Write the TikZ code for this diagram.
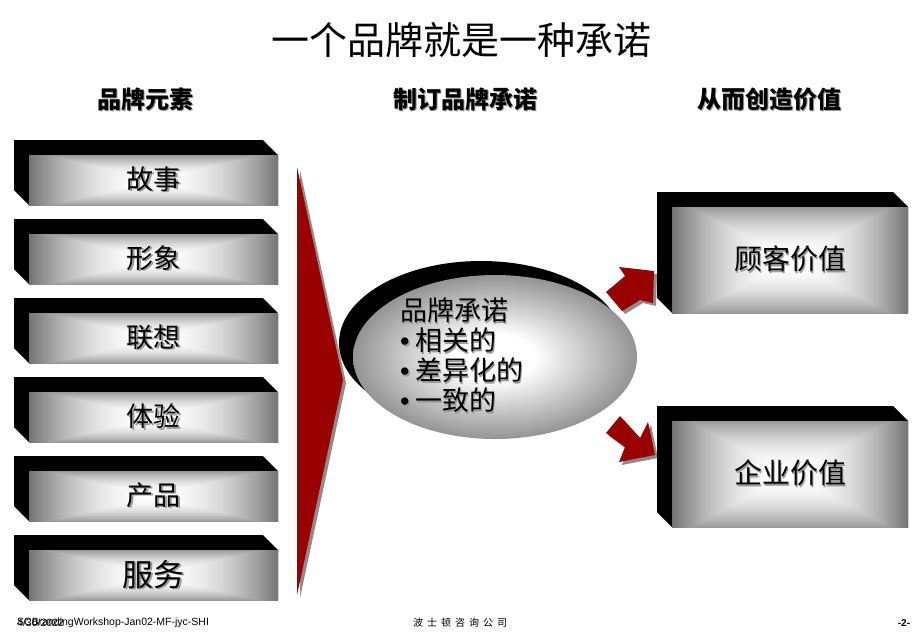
\documentclass[tikz,border=0pt]{standalone}
\usepackage{fontspec}
\setmainfont{Liberation Sans}
\newfontfamily\cjk{Noto Sans CJK SC}
\usetikzlibrary{shapes.geometric}
\definecolor{brandred}{RGB}{153,0,0}
\pgfdeclarefunctionalshading{boxshade}{\pgfpoint{-50bp}{-50bp}}{\pgfpoint{50bp}{50bp}}{}{abs 0.85 mul exch abs 2 copy lt {exch} if pop 25 div dup 1 gt {pop 1} if dup mul 0.55 mul 1 exch sub dup dup}
\pgfdeclareradialshading{ellshade}{\pgfpoint{0bp}{0bp}}{color(0bp)=(white); color(7bp)=(white); color(25bp)=(black!42); color(50bp)=(black!42)}
\newcommand\shtx[1]{\leavevmode\rlap{\kern1.5pt\raisebox{-1.5pt}{\color{black!40}#1}}#1}
\newcommand\bul{\makebox[15pt][l]{\rmfamily •}}
\tikzset{
  frontface/.style={shading=boxshade, inner sep=0pt, font=\cjk},
  header/.style={font=\cjk\bfseries\fontsize{24}{24}\selectfont, inner sep=0pt},
  backface/.style={fill=black},
  redshape/.style={fill=brandred},
  redshadow/.style={fill=black!45},
}
\begin{document}
\begin{tikzpicture}[x=1pt,y=-1pt]
\useasboundingbox[fill=white] (0,0) rectangle (920,638);

% title and headers
\node[font=\cjk\fontsize{38}{38}\selectfont, inner sep=0pt] (title) at (461,40) {一个品牌就是一种承诺};
\node[header] (h1) at (145,100) {\shtx{品牌元素}};
\node[header] (h2) at (465,100) {\shtx{制订品牌承诺}};
\node[header] (h3) at (769,100) {\shtx{从而创造价值}};

% left boxes
\foreach \t/\lab/\fs [count=\i] in {155/故事/27, 234/形象/27, 313/联想/27, 392/体验/27, 471/产品/27, 550/服务/31} {
  \fill[backface] (14,{\t-15}) -- (263,{\t-15}) -- (278,\t) -- (278,{\t+50}) -- (29,{\t+50}) -- (14,{\t+35}) -- cycle;
  \node[frontface, minimum width=249pt, minimum height=50pt] (b\i) at (153.5,{\t+25}) {\fontsize{\fs}{\fs}\selectfont\shtx{\lab}};
}

% red triangle
\fill[redshadow] (300,170) -- (346,383) -- (300,598) -- cycle;
\fill[redshape] (297,167) -- (343,380) -- (297,595) -- cycle;

% ellipse
\node[ellipse, backface, minimum width=284pt, minimum height=164pt, inner sep=0pt] (promback) at (481,343) {};
\node[ellipse, shading=ellshade, minimum width=284pt, minimum height=164pt, inner sep=0pt] (prom) at (495,357) {};
\node[anchor=north west, align=left, inner sep=0pt, font=\cjk\fontsize{27}{30}\selectfont] (promtext) at (400,298) {%
\shtx{品牌承诺}\\
\shtx{\bul 相关的}\\
\shtx{\bul 差异化的}\\
\shtx{\bul 一致的}};

% arrows
\fill[redshadow, shift={(3,3)}] (606,292) -- (625,276) -- (619,267) -- (654,271) -- (653,303) -- (640,300) -- (622,311) -- cycle;
\fill[redshape] (606,292) -- (625,276) -- (619,267) -- (654,271) -- (653,303) -- (640,300) -- (622,311) -- cycle;
\fill[redshadow, shift={(3,3)}] (620,416) -- (640,438) -- (648,422) -- (655,455) -- (619,462) -- (625,447) -- (606,433) -- cycle;
\fill[redshape] (620,416) -- (640,438) -- (648,422) -- (655,455) -- (619,462) -- (625,447) -- (606,433) -- cycle;

% right boxes
\fill[backface] (657,192) -- (893,192) -- (908,207) -- (908,313) -- (672,313) -- (657,298) -- cycle;
\node[frontface, minimum width=236pt, minimum height=106pt] (cv) at (790,260) {\fontsize{28}{28}\selectfont\shtx{顾客价值}};
\fill[backface] (657,406) -- (893,406) -- (908,421) -- (908,527) -- (672,527) -- (657,512) -- cycle;
\node[frontface, minimum width=236pt, minimum height=106pt] (ev) at (790,474) {\fontsize{28}{28}\selectfont\shtx{企业价值}};

% footer
\node[anchor=west, inner sep=0pt, font=\fontsize{10.5}{10.5}\selectfont] (fl1) at (17,623) {SCBrandingWorkshop-Jan02-MF-jyc-SHI};
\node[anchor=west, inner sep=0pt, font=\fontsize{10.5}{10.5}\selectfont] (fl2) at (17,623) {4/30/2022};
\node[inner sep=0pt, font=\cjk\fontsize{10}{10}\selectfont] (foot) at (460,623) {波\kern4pt 士\kern4pt 顿\kern4pt 咨\kern4pt 询\kern4pt 公\kern4pt 司};
\node[inner sep=0pt, font=\bfseries\fontsize{10}{10}\selectfont] (pg) at (904,623) {-2-};
\end{tikzpicture}
\end{document}
